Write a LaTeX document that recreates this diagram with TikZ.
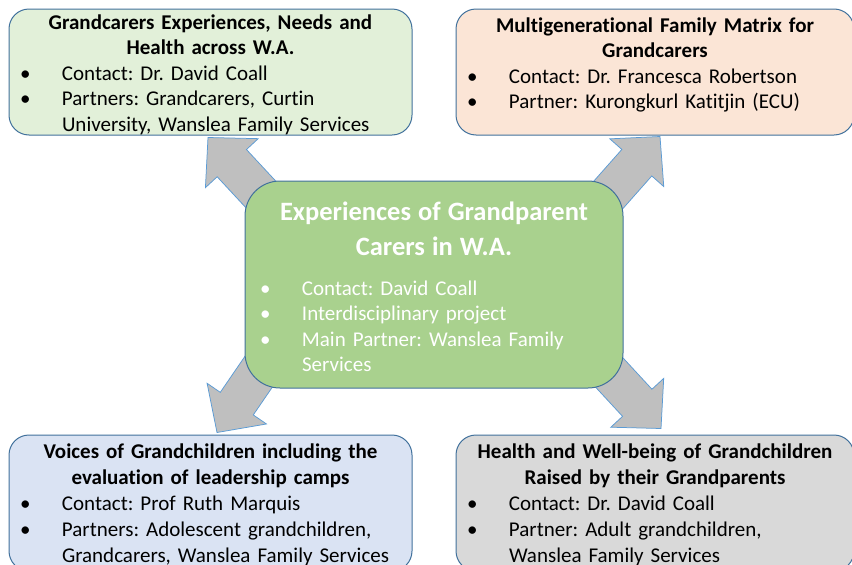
\documentclass[tikz,border=0pt]{standalone}
\usepackage{fontspec}
\setmainfont{Carlito}[Ligatures=NoCommon]
\usepackage{xcolor}
\usepackage{tikz}
\usetikzlibrary{calc,positioning,backgrounds}
\frenchspacing

\definecolor{boxline}{HTML}{41719C}
\definecolor{arrowline}{HTML}{5B9BD5}
\definecolor{arrowfill}{HTML}{BFBFBF}
\definecolor{greenlight}{HTML}{E2F0D9}
\definecolor{peach}{HTML}{FBE5D6}
\definecolor{greenmid}{HTML}{A9D18E}
\definecolor{bluelight}{HTML}{DAE3F3}
\definecolor{greylight}{HTML}{D9D9D9}

\newcommand{\bul}{\makebox[37pt][l]{\hspace*{-5pt}\textbullet}}
\newcommand{\ind}{\hspace*{37pt}}
\newcommand{\boxtitle}[1]{\makebox[\linewidth][c]{\bfseries #1}}

% block arrow: #1 tail, #2 tip
\newcommand{\fatarrow}[2]{%
  \coordinate (#2-h) at ($(#2)!35pt!(#1)$);
  \draw[fatarrow] (#2)
    -- ($(#2-h)!36pt!90:(#2)$) -- ($(#2-h)!20pt!90:(#2)$)
    -- ($(#1)!20pt!90:(#2)$) -- ($(#1)!20pt!-90:(#2)$)
    -- ($(#2-h)!20pt!-90:(#2)$) -- ($(#2-h)!36pt!-90:(#2)$) -- cycle;}

\begin{document}
\begin{tikzpicture}[x=1pt, y=-1pt,
    box/.style = {draw=boxline, line width=1pt, rounded corners=20pt, minimum width=403pt, minimum height=126pt},
    txt/.style = {inner sep=0pt, align=left, text width=371pt, font=\fontsize{21}{25.5}\selectfont},
    lowtxt/.style = {txt, font=\fontsize{21}{26}\selectfont},
    fatarrow/.style = {draw=arrowline, fill=arrowfill, line width=0.75pt}]
  \useasboundingbox (0,0) rectangle (852,565);

  % the four project boxes
  \node[box, fill=greenlight] (needs) at (210.5,72) {};
  \node[box, fill=peach, minimum width=398pt] (family) at (655,72) {};
  \node[box, fill=bluelight, minimum height=136pt] (voices) at (210.5,503) {};
  \node[box, fill=greylight, minimum width=398pt, minimum height=136pt] (wellbeing) at (655,503) {};

  % centre box
  \node[box, fill=greenmid, rounded corners=35pt, minimum width=378pt, minimum height=207pt] (carers) at (434,284.5) {};

  \node[txt, below=6pt of needs.north] (needs-text) {%
    \boxtitle{Grandcarers Experiences, Needs and}\\
    \boxtitle{Health across W.A.}\\
    \bul Contact: Dr. David Coall\\
    \bul Partners: Grandcarers, Curtin\\
    \ind University, Wanslea Family Services};
  \node[txt, text width=366pt, below=9pt of family.north] (family-text) {%
    \boxtitle{Multigenerational Family Matrix for}\\
    \boxtitle{Grandcarers}\\
    \bul Contact: Dr. Francesca Robertson\\
    \bul Partner: Kurongkurl Katitjin (ECU)};
  \node[lowtxt, below=9pt of voices.north] (voices-text) {%
    \boxtitle{Voices of Grandchildren including the}\\
    \boxtitle{evaluation of leadership camps}\\
    \bul Contact: Prof Ruth Marquis\\
    \bul Partners: Adolescent grandchildren,\\
    \ind Grandcarers, Wanslea Family Services};
  \node[lowtxt, text width=366pt, below=9pt of wellbeing.north] (wellbeing-text) {%
    \boxtitle{Health and Well-being of Grandchildren}\\
    \boxtitle{Raised by their Grandparents}\\
    \bul Contact: Dr. David Coall\\
    \bul Partner: Adult grandchildren,\\
    \ind Wanslea Family Services};
  \node[txt, text=white, text width=338pt, below=21pt of carers.north] (carers-text) {%
    {\fontsize{26.5}{35}\selectfont\boxtitle{Experiences of Grandparent}}\\[9.5pt]
    {\fontsize{26.5}{35}\selectfont\boxtitle{Carers in W.A.}}\\[14.5pt]
    \bul Contact: David Coall\\
    \bul Interdisciplinary project\\
    \bul Main Partner: Wanslea Family\\
    \ind Services};

  % arrows from the centre out to each project
  \begin{scope}[on background layer]
    \coordinate (tl-tip) at ($(needs.south)+(-2.5,2)$);
    \coordinate (tr-tip) at ($(family.south)+(5,1)$);
    \coordinate (bl-tip) at ($(voices.north)+(6.5,-2)$);
    \coordinate (br-tip) at ($(wellbeing.north)+(6,-6)$);
    \coordinate (tl-tail) at ($(carers.north west)+(35,34)$);
    \coordinate (tr-tail) at ($(carers.north east)+(-29,30)$);
    \coordinate (bl-tail) at ($(carers.south west)+(28,-37)$);
    \coordinate (br-tail) at ($(carers.south east)+(-29,-32)$);
    \fatarrow{tl-tail}{tl-tip}
    \fatarrow{tr-tail}{tr-tip}
    \fatarrow{bl-tail}{bl-tip}
    \fatarrow{br-tail}{br-tip}
  \end{scope}
\end{tikzpicture}
\end{document}
